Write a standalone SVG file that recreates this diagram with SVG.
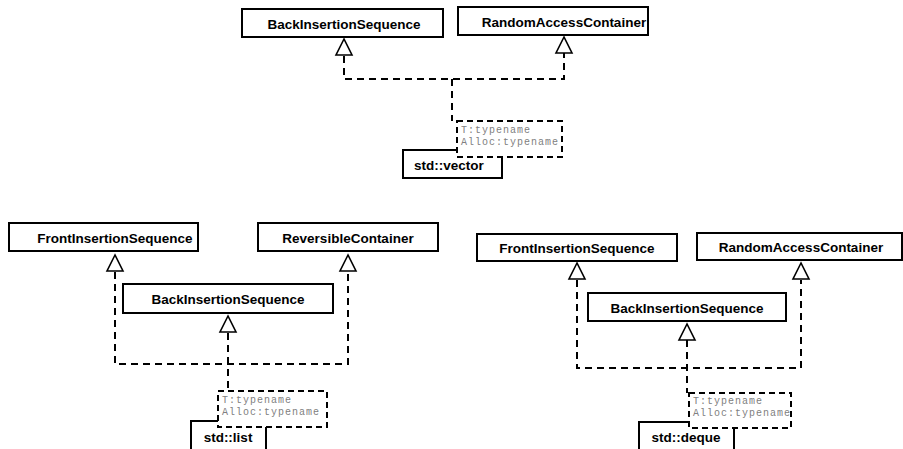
<svg xmlns="http://www.w3.org/2000/svg" width="903" height="449" viewBox="0 0 903 449">
<style>
.box{fill:#fff;stroke:#000;stroke-width:2}
.lbl{font-family:"Liberation Sans",Arial,Helvetica,sans-serif;font-weight:bold;font-size:13.5px;fill:#000;text-anchor:middle}
.tpl{fill:#fff;stroke:#000;stroke-width:2;stroke-dasharray:6,4}
.tt{font-family:"Liberation Mono","Courier New",monospace;font-size:10px;letter-spacing:1px;fill:#808080}
.dash{fill:none;stroke:#000;stroke-width:2;stroke-dasharray:7,5}
.tri{fill:#fff;stroke:#000;stroke-width:1.6;stroke-linejoin:miter}
</style>
<rect width="903" height="449" fill="#fff"/>
<g id="connectors">
  <path class="dash" d="M344,56 V79 H564 V53"/>
  <path class="dash" d="M452,79 V121"/>
  <polygon class="tri" points="344,39 336,55 352,55"/>
  <polygon class="tri" points="564,37 556,53 572,53"/>
  <path class="dash" d="M115,272 V364 H348 V272"/>
  <path class="dash" d="M228,333 V391"/>
  <polygon class="tri" points="115,255 107,271 123,271"/>
  <polygon class="tri" points="348,255 340,271 356,271"/>
  <polygon class="tri" points="228,316 220,332 236,332"/>
  <path class="dash" d="M577,280 V368 H801 V280"/>
  <path class="dash" d="M687,340 V393"/>
  <polygon class="tri" points="577,263 569,279 585,279"/>
  <polygon class="tri" points="801,263 793,279 809,279"/>
  <polygon class="tri" points="687,324 679,340 695,340"/>
</g>
<g id="top_BackInsertionSequence">
  <rect class="box" x="242" y="9" width="201" height="28"/>
  <text class="lbl" x="344" y="29">BackInsertionSequence</text>
</g>
<g id="top_RandomAccessContainer">
  <rect class="box" x="458" y="7" width="190" height="28"/>
  <text class="lbl" x="564" y="27">RandomAccessContainer</text>
</g>
<g id="std_vector">
  <rect class="box" x="403" y="150" width="99" height="28"/>
  <text class="lbl" x="449" y="170">std::vector</text>
  <rect class="tpl" x="457" y="121" width="105" height="36"/>
  <text class="tt" x="461" y="133">T:typename</text>
  <text class="tt" x="461" y="145">Alloc:typename</text>
</g>
<g id="bl_FrontInsertionSequence">
  <rect class="box" x="9" y="223" width="189" height="28"/>
  <text class="lbl" x="115" y="243">FrontInsertionSequence</text>
</g>
<g id="bl_ReversibleContainer">
  <rect class="box" x="258" y="223" width="180" height="28"/>
  <text class="lbl" x="348" y="243">ReversibleContainer</text>
</g>
<g id="bl_BackInsertionSequence">
  <rect class="box" x="123" y="284" width="210" height="29"/>
  <text class="lbl" x="228" y="304">BackInsertionSequence</text>
</g>
<g id="std_list">
  <rect class="box" x="191" y="421" width="75" height="40"/>
  <text class="lbl" x="228" y="442">std::list</text>
  <rect class="tpl" x="218" y="391" width="109" height="36"/>
  <text class="tt" x="222" y="403">T:typename</text>
  <text class="tt" x="222" y="415">Alloc:typename</text>
</g>
<g id="br_FrontInsertionSequence">
  <rect class="box" x="477" y="234" width="200" height="27"/>
  <text class="lbl" x="577" y="253">FrontInsertionSequence</text>
</g>
<g id="br_RandomAccessContainer">
  <rect class="box" x="697" y="233" width="205" height="27"/>
  <text class="lbl" x="801" y="252">RandomAccessContainer</text>
</g>
<g id="br_BackInsertionSequence">
  <rect class="box" x="588" y="293" width="198" height="28"/>
  <text class="lbl" x="687" y="313">BackInsertionSequence</text>
</g>
<g id="std_deque">
  <rect class="box" x="639" y="422" width="95" height="40"/>
  <text class="lbl" x="686" y="442">std::deque</text>
  <rect class="tpl" x="689" y="393" width="102" height="35"/>
  <text class="tt" x="693" y="404">T:typename</text>
  <text class="tt" x="693" y="416">Alloc:typename</text>
</g>
</svg>
